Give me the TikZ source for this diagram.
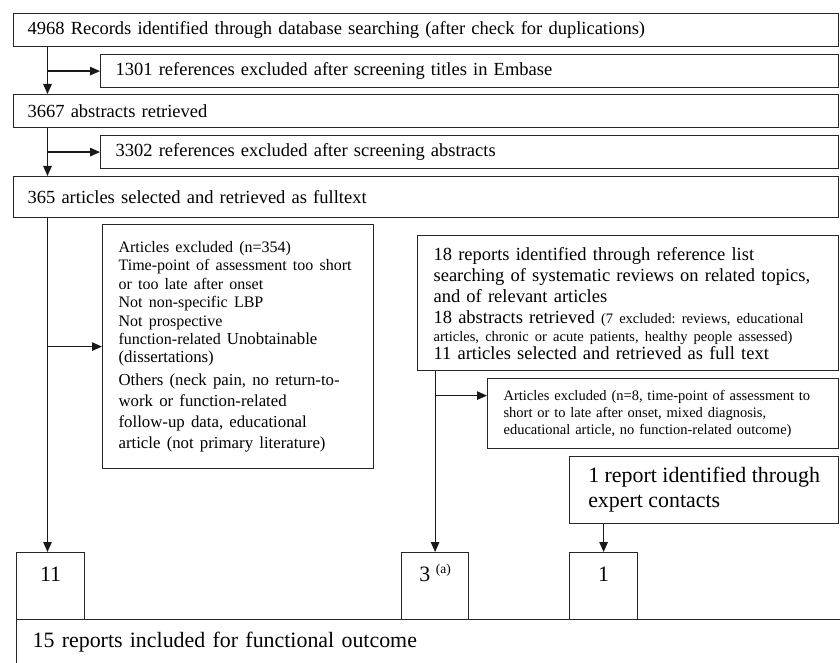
\documentclass[tikz,border=0pt]{standalone}
\usepackage{fontspec}
\setmainfont{Liberation Serif}
\usepackage{tikz}
\usetikzlibrary{arrows.meta}

\newcommand{\fL}{\fontsize{18.5}{21}\selectfont}
\newcommand{\fM}{\fontsize{16.8}{21}\selectfont}
\newcommand{\fS}{\fontsize{16}{18.5}\selectfont}
\newcommand{\fT}{\fontsize{14.5}{17}\selectfont}
\newcommand{\fXL}{\fontsize{21.9}{25}\selectfont}
\frenchspacing

\tikzset{
  box/.style={draw=black!85, line width=1.2pt, anchor=north west, inner ysep=0pt, align=left, font=\fL},
  numbox/.style={draw=black!85, line width=1.2pt, anchor=north west, inner sep=0pt, minimum width=68pt,
    text height=29pt, text depth=38pt, align=center, font=\fXL},
  arr/.style={-{Triangle[length=10pt,width=8.5pt]}, line width=1.2pt, black!90},
}

\begin{document}
\begin{tikzpicture}[x=1pt,y=-1pt]
    \useasboundingbox (0,0) rectangle (840,663);
    \clip (0,0) rectangle (840,663);

    \node[box, inner xsep=14pt, text width=797pt, minimum height=33pt] (rec) at (13,13)
        {4968 Records identified through database searching (after check for duplications)};
    \node[box, inner xsep=15pt, text width=708pt, minimum height=33pt] (excl1) at (100,54)
        {1301 references excluded after screening titles in Embase};
    \node[box, inner xsep=14pt, text width=797pt, minimum height=33pt] (abs) at (13,94)
        {3667 abstracts retrieved};
    \node[box, inner xsep=15pt, text width=708pt, minimum height=33pt] (excl2) at (100,135)
        {3302 references excluded after screening abstracts};
    \node[box, inner xsep=14pt, text width=797pt, minimum height=41pt] (full) at (13,176)
        {365 articles selected and retrieved as fulltext};

    \node[box, inner xsep=16pt, text width=239pt, minimum height=244pt] (excl) at (102,224) {%
        {\fS Articles excluded (n=354)\par}
        {\fS Time-point of assessment too short\par}
        {\fS or too late after onset\par}
        {\fS Not non-specific LBP\par}
        {\fS Not prospective\par}
        {\fS function-related {\fM Unobtainable}\par}
        {\fM\baselineskip=18pt (dissertations)\par}
        {\fM\baselineskip=23pt Others (neck pain, no return-to-\par}
        {\fM work or function-related\par}
        {\fM follow-up data, educational\par}
        {\fM article (not primary literature)\par}\vspace*{8pt}};

    \node[box, inner xsep=16pt, text width=389pt, minimum height=135pt] (lit) at (417,235) {%
        {\fL 18 reports identified through reference list\par}
        {\fL searching of systematic reviews on related topics,\par}
        {\fL and of relevant articles\par}
        {\fL 18 abstracts retrieved {\fT (7 excluded: reviews, educational}\par}
        {\fT\baselineskip=18pt articles, chronic or acute patients, healthy people assessed)\par}
        {\fL\baselineskip=18pt 11 articles selected and retrieved as full text\par}};

    \node[box, inner xsep=16pt, text width=319pt, minimum height=70pt, font=\fT] (excl3) at (487,378) {%
        Articles excluded (n=8, time-point of assessment to\\
        short or to late after onset, mixed diagnosis,\\
        educational article, no function-related outcome)};

    \node[box, inner xsep=4pt, minimum width=269pt, minimum height=67pt, font=\fXL] (expert) at (569,456)
        {1 report identified through\\expert contacts};

    \node[numbox] (n11) at (16,552) {11};
    \node[numbox, minimum width=67pt] (n3) at (401,552) {3 \raisebox{8pt}{\fontsize{13.5}{13.5}\selectfont (a)}};
    \node[numbox] (n1) at (569,552) {1};

    \node[box, inner xsep=16pt, text width=900pt, text height=28pt, text depth=60pt, font=\fXL] (incl) at (16,619)
        {15 reports included for functional outcome};

    \coordinate (trunk) at (47.5,0);
    \coordinate (tap) at ([yshift=18pt]excl3.west);

    \draw[arr] (rec.south -| trunk) -- (abs.north -| trunk);
    \draw[arr] (excl1.west -| trunk) -- (excl1.west);
    \draw[arr] (abs.south -| trunk) -- (full.north -| trunk);
    \draw[arr] (excl2.west -| trunk) -- (excl2.west);
    \draw[arr] (full.south -| trunk) -- (n11.north -| trunk);
    \draw[arr] (excl.west -| trunk) -- (excl.west);
    \draw[arr] (lit.south -| n3.north) -- (n3.north);
    \draw[arr] (tap -| n3.north) -- (tap);
    \draw[arr] (expert.south -| n1.north) -- (n1.north);

\end{tikzpicture}
\end{document}
